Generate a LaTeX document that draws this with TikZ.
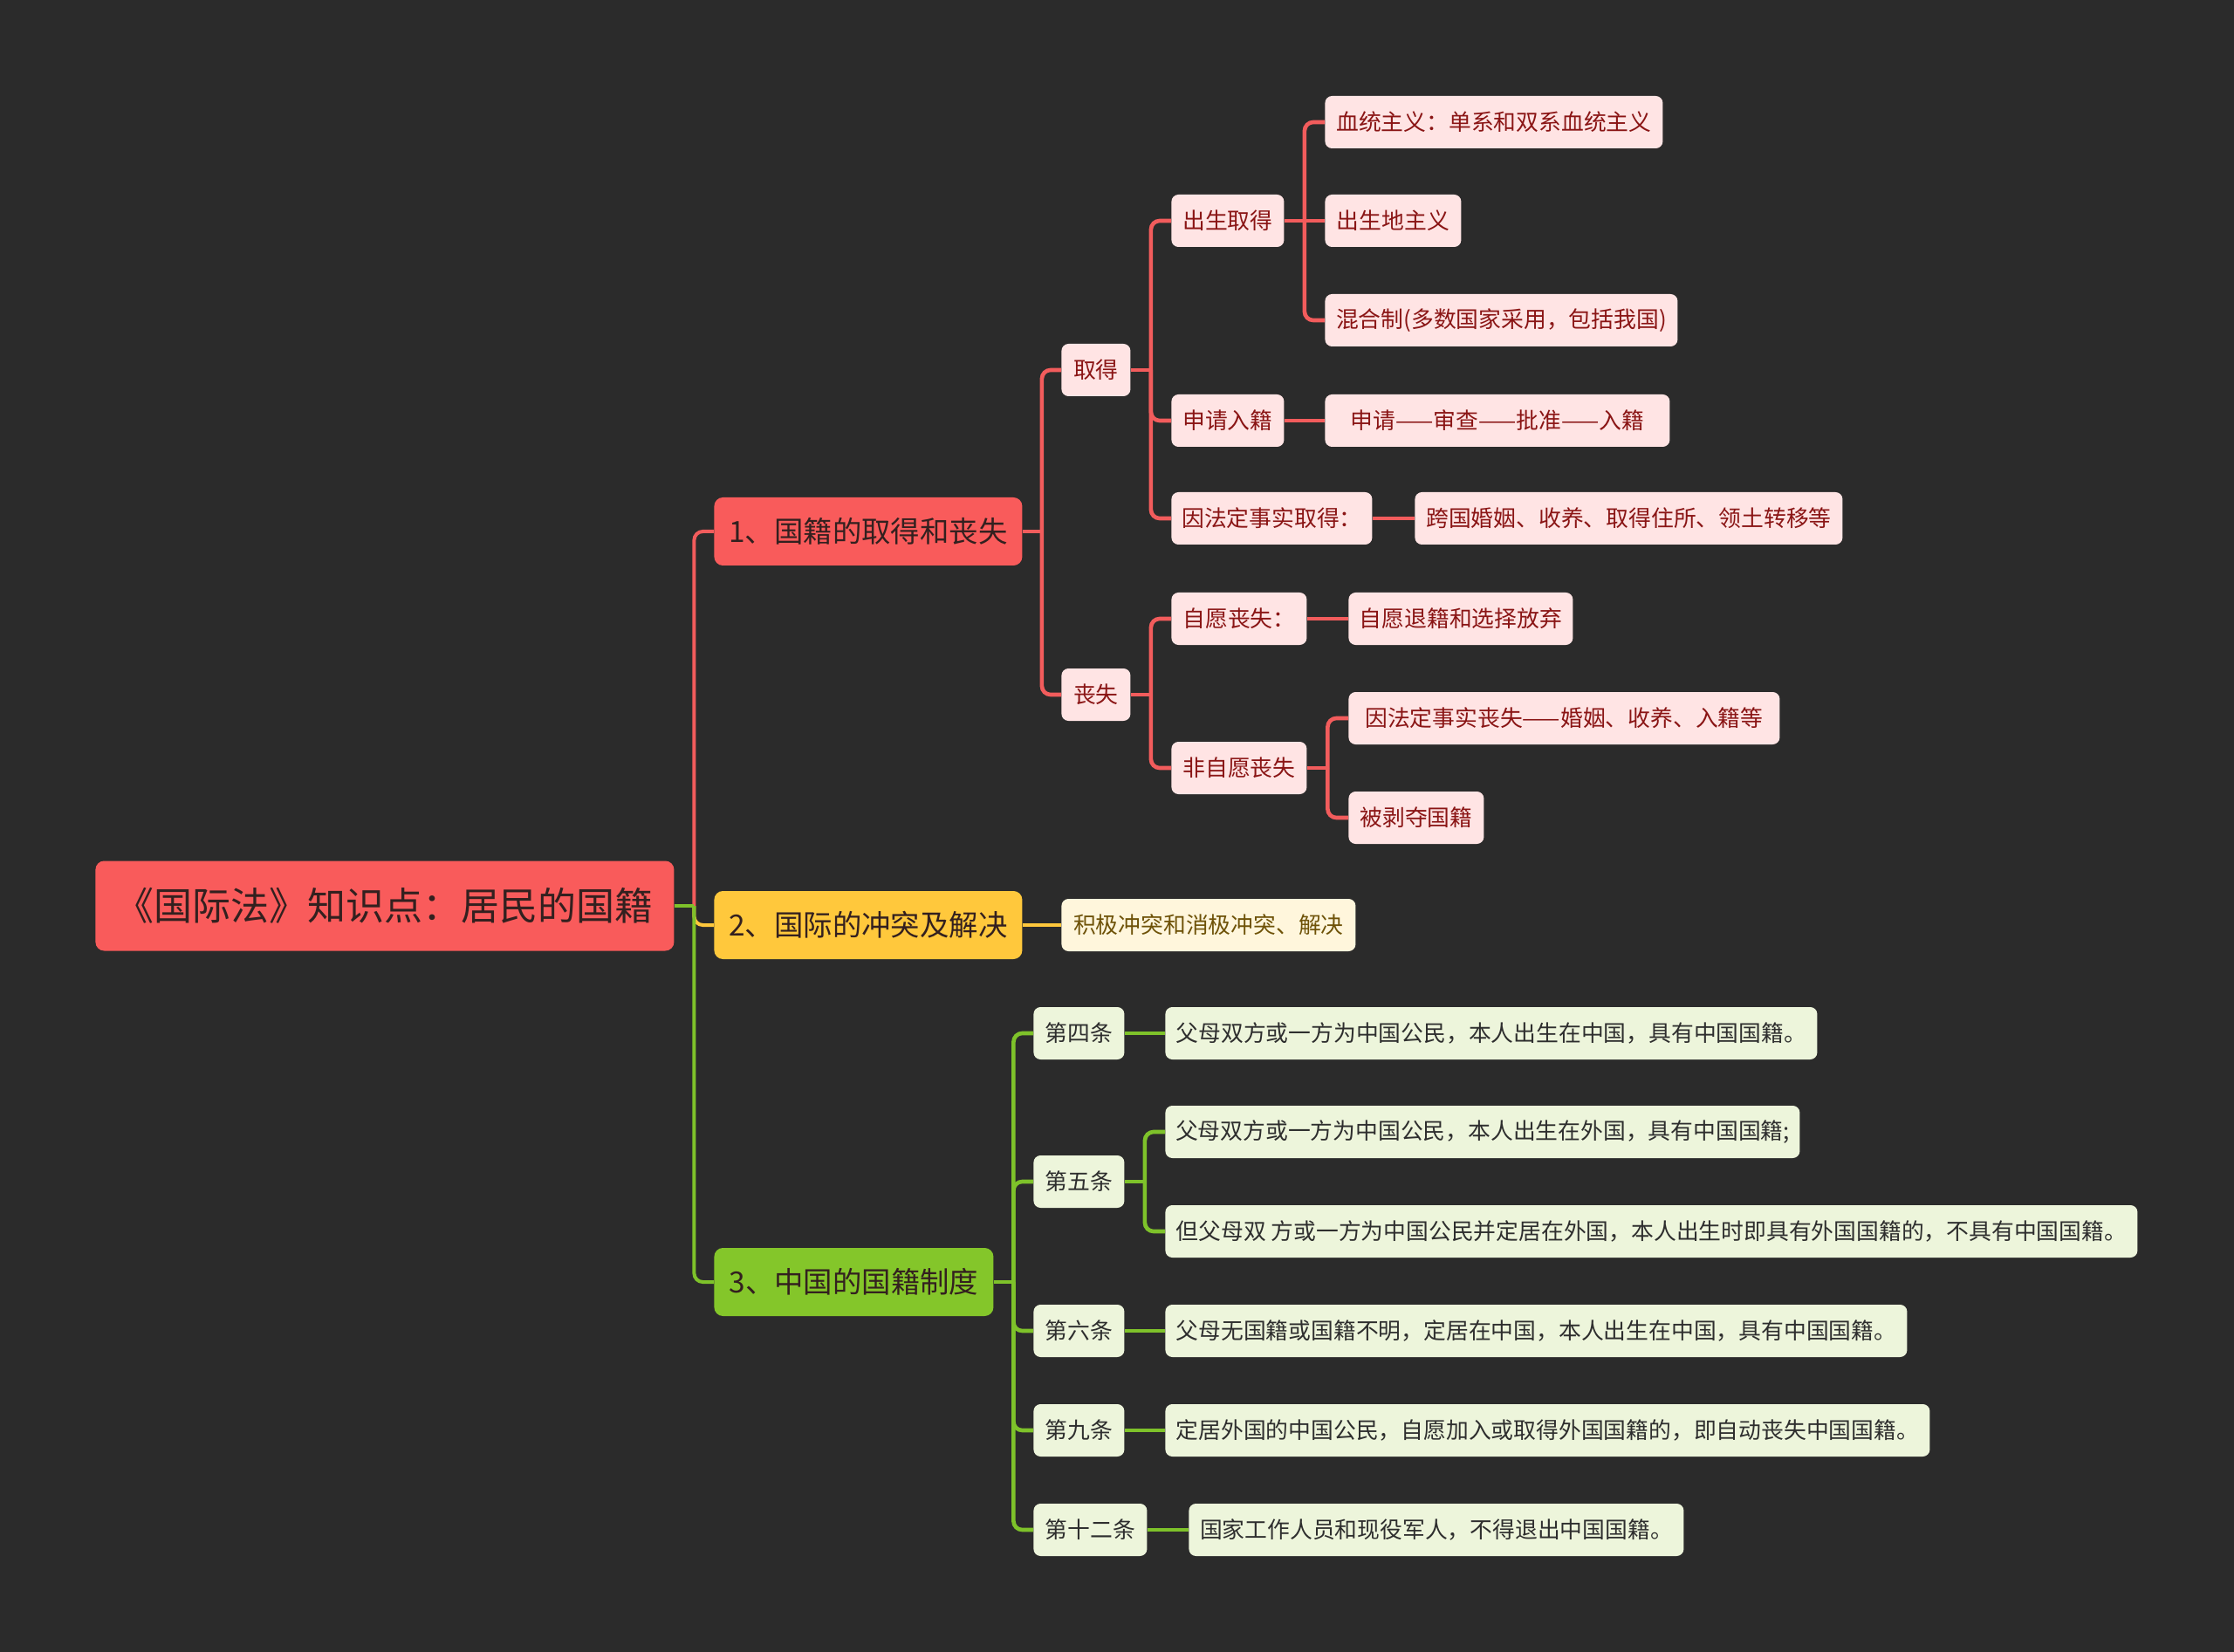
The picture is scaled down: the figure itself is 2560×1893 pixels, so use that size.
\documentclass[tikz,border=0pt]{standalone}
\usepackage{fontspec}
\setmainfont{Noto Sans CJK SC}
\usetikzlibrary{calc}
\definecolor{bg}{HTML}{2B2B2B}
\definecolor{redmain}{HTML}{F95B5B}
\definecolor{redline}{HTML}{F25C5C}
\definecolor{pinkfill}{HTML}{FFE4E4}
\definecolor{pinktext}{HTML}{8A1515}
\definecolor{yelmain}{HTML}{FFC83C}
\definecolor{yelfill}{HTML}{FFF6DC}
\definecolor{yeltext}{HTML}{6E5208}
\definecolor{grnmain}{HTML}{84C62A}
\definecolor{grnline}{HTML}{7EC22A}
\definecolor{grnfill}{HTML}{EDF5DB}
\definecolor{grntext}{HTML}{2E2E2E}
\definecolor{darktext}{HTML}{33201F}
\tikzset{
  rootbox/.style={fill=redmain, rounded corners=5pt, anchor=west, minimum height=51.5pt, inner sep=0pt, text=darktext, font=\fontsize{22}{26}\selectfont},
  lonebox/.style={rounded corners=5pt, anchor=west, minimum height=39pt, inner sep=0pt, font=\fontsize{16.7}{20}\selectfont},
  leafbox/.style={rounded corners=4pt, anchor=west, minimum height=30pt, inner sep=0pt, font=\fontsize{12.9}{15}\selectfont},
  redleaf/.style={leafbox, fill=pinkfill, text=pinktext},
  yelleaf/.style={leafbox, fill=yelfill, text=yeltext},
  grnleaf/.style={leafbox, fill=grnfill, text=grntext},
}
\newcommand\edge[4]{%
  \coordinate (tmpm) at ($(#1.east)!.5!(#1.east-|#2.west)$);
  \draw[line width=#4,#3] (#1.east) -- (tmpm);
  \draw[line width=#4,#3,rounded corners=5pt] (tmpm) |- (#2.west);}
\newcommand\sedge[4]{%
  \draw[line width=#4,#3] (#1.east) -- (#2.west);}
\begin{document}
\begin{tikzpicture}[x=0.5pt,y=-0.5pt]
\fill[bg] (0,0) rectangle (2560,1893);
\useasboundingbox (0,0) rectangle (2560,1893);

% root
\node[rootbox, minimum width=331.5pt] (root) at (109,1038) {《国际法》知识点：居民的国籍};

% level 1
\node[lonebox, fill=redmain, text=darktext, minimum width=176.5pt] (n1) at (818,609) {1、国籍的取得和丧失};
\node[lonebox, fill=yelmain, text=darktext, minimum width=176.5pt] (n2) at (818,1060) {2、国际的冲突及解决};
\node[lonebox, fill=grnmain, text=darktext, minimum width=160pt] (n3) at (818,1469) {3、中国的国籍制度};

% red branch
\node[redleaf, minimum width=39.5pt] (qd) at (1216,424) {取得};
\node[redleaf, minimum width=39.5pt] (ss) at (1216,796) {丧失};

\node[redleaf, minimum width=64.5pt] (cs) at (1342,253) {出生取得};
\node[redleaf, minimum width=64.5pt] (sq) at (1342,482) {申请入籍};
\node[redleaf, minimum width=115pt] (yf) at (1342,594) {因法定事实取得：};
\node[redleaf, minimum width=77.5pt] (zy) at (1342,709) {自愿丧失：};
\node[redleaf, minimum width=77.5pt] (fz) at (1342,880) {非自愿丧失};

\node[redleaf, minimum width=193.5pt] (xt) at (1518,140) {血统主义：单系和双系血统主义};
\node[redleaf, minimum width=78pt] (csd) at (1518,253) {出生地主义};
\node[redleaf, minimum width=202pt] (hh) at (1518,367) {混合制(多数国家采用，包括我国)};
\node[redleaf, minimum width=197.5pt] (sqs) at (1518,482) {申请——审查——批准——入籍};
\node[redleaf, minimum width=245pt] (kg) at (1621,594) {跨国婚姻、收养、取得住所、领土转移等};
\node[redleaf, minimum width=128.5pt] (zyt) at (1545,709) {自愿退籍和选择放弃};
\node[redleaf, minimum width=247pt] (yfs) at (1545,823) {因法定事实丧失——婚姻、收养、入籍等};
\node[redleaf, minimum width=77.5pt] (bb) at (1545,937) {被剥夺国籍};

% yellow branch
\node[yelleaf, minimum width=168.5pt] (jj) at (1216,1060) {积极冲突和消极冲突、解决};

% green branch
\node[grnleaf, minimum width=52pt] (d4) at (1184,1184) {第四条};
\node[grnleaf, minimum width=52pt] (d5) at (1184,1354) {第五条};
\node[grnleaf, minimum width=52pt] (d6) at (1184,1525) {第六条};
\node[grnleaf, minimum width=52pt] (d9) at (1184,1639) {第九条};
\node[grnleaf, minimum width=65pt] (d12) at (1184,1753) {第十二条};

\node[grnleaf, minimum width=373.5pt] (t4) at (1335,1184) {父母双方或一方为中国公民，本人出生在中国，具有中国国籍。};
\node[grnleaf, minimum width=363.5pt] (t5a) at (1335,1297) {父母双方或一方为中国公民，本人出生在外国，具有中国国籍;};
\node[grnleaf, minimum width=557pt] (t5b) at (1335,1411) {但父母双 方或一方为中国公民并定居在外国，本人出生时即具有外国国籍的，不具有中国国籍。};
\node[grnleaf, minimum width=425pt] (t6) at (1335,1525) {父母无国籍或国籍不明，定居在中国，本人出生在中国，具有中国国籍。};
\node[grnleaf, minimum width=438pt] (t9) at (1335,1639) {定居外国的中国公民，自愿加入或取得外国国籍的，即自动丧失中国国籍。};
\node[grnleaf, minimum width=283.5pt] (t12) at (1362,1753) {国家工作人员和现役军人，不得退出中国国籍。};

% connectors
\edge{root}{n1}{redline}{2pt}
\edge{root}{n2}{yelmain}{2pt}
\edge{root}{n3}{grnline}{2pt}

\edge{n1}{qd}{redline}{2.3pt}
\edge{n1}{ss}{redline}{2.3pt}
\edge{qd}{cs}{redline}{2.3pt}
\edge{qd}{sq}{redline}{2.3pt}
\edge{qd}{yf}{redline}{2.3pt}
\edge{cs}{xt}{redline}{2.3pt}
\sedge{cs}{csd}{redline}{2.3pt}
\edge{cs}{hh}{redline}{2.3pt}
\sedge{sq}{sqs}{redline}{2.3pt}
\sedge{yf}{kg}{redline}{2.3pt}
\edge{ss}{zy}{redline}{2.3pt}
\edge{ss}{fz}{redline}{2.3pt}
\sedge{zy}{zyt}{redline}{2.3pt}
\edge{fz}{yfs}{redline}{2.3pt}
\edge{fz}{bb}{redline}{2.3pt}

\sedge{n2}{jj}{yelmain}{2.3pt}

\edge{n3}{d4}{grnline}{2.3pt}
\edge{n3}{d5}{grnline}{2.3pt}
\edge{n3}{d6}{grnline}{2.3pt}
\edge{n3}{d9}{grnline}{2.3pt}
\edge{n3}{d12}{grnline}{2.3pt}
\sedge{d4}{t4}{grnline}{2.3pt}
\edge{d5}{t5a}{grnline}{2.3pt}
\edge{d5}{t5b}{grnline}{2.3pt}
\sedge{d6}{t6}{grnline}{2.3pt}
\sedge{d9}{t9}{grnline}{2.3pt}
\sedge{d12}{t12}{grnline}{2.3pt}
\end{tikzpicture}
\end{document}
